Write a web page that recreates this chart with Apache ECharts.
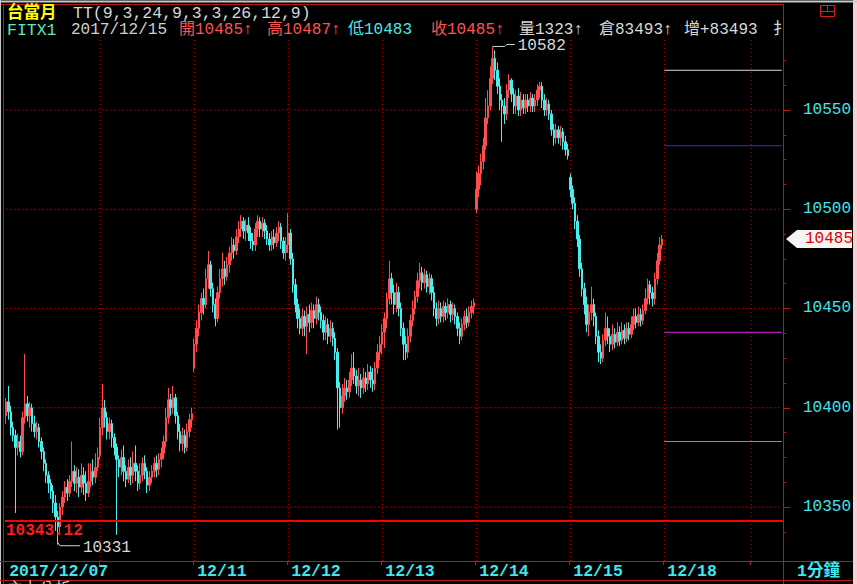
<!DOCTYPE html>
<html><head><meta charset="utf-8">
<script src="https://cdn.jsdelivr.net/npm/echarts@6/dist/echarts.min.js"></script>
<style>html,body{margin:0;padding:0;background:#000;}#c{width:857px;height:584px;}</style>
</head><body><div id="c"></div>
<script>
// ---- data ----
const dayLabels = ['2017/12/07','12/08','12/11','12/12','12/13','12/14','12/15','12/18'];
// [open, close, low, high]
const d1207 = [
[10396,10403,10392,10405],[10403,10398,10394,10411],[10398,10390,10386,10401],[10390,10386,10383,10393],
[10386,10380,10347,10389],[10380,10383,10376,10387],[10383,10378,10375,10386],[10378,10395,10376,10398],
[10395,10402,10392,10427],[10402,10396,10393,10406],[10396,10400,10390,10403],[10400,10392,10388,10402],
[10392,10388,10385,10396],[10388,10390,10384,10393],[10390,10383,10380,10392],[10383,10378,10374,10385],
[10378,10372,10368,10380],[10372,10366,10362,10374],[10366,10362,10357,10368],[10362,10358,10354,10364],
[10358,10352,10347,10361],[10352,10345,10338,10356],[10345,10340,10331,10348],[10340,10350,10336,10352],
[10350,10355,10346,10358],[10355,10360,10352,10363],[10360,10357,10353,10364],[10357,10363,10355,10366],
[10363,10368,10360,10383],[10368,10362,10358,10371],[10362,10365,10357,10370],[10365,10360,10355,10369],
[10360,10366,10357,10372],[10366,10362,10356,10370],[10362,10357,10353,10368],[10357,10363,10355,10372],
[10363,10368,10360,10372],[10368,10365,10361,10374],[10365,10370,10362,10377],[10370,10375,10368,10380]];
const d1208 = [
[10376,10390,10374,10395],[10390,10400,10386,10412],[10400,10395,10390,10404],[10395,10388,10384,10398],
[10388,10392,10384,10395],[10392,10385,10380,10394],[10385,10380,10376,10387],[10380,10374,10336,10382],
[10374,10370,10365,10376],[10370,10375,10366,10379],[10375,10368,10363,10381],[10368,10364,10360,10371],
[10364,10370,10362,10374],[10370,10366,10361,10375],[10366,10372,10362,10378],[10372,10368,10363,10381],
[10368,10362,10358,10371],[10362,10366,10359,10372],[10366,10372,10363,10375],[10372,10368,10364,10376],
[10368,10361,10357,10370],[10361,10365,10358,10368],[10365,10368,10362,10371],[10368,10372,10365,10375],
[10372,10369,10365,10376],[10369,10374,10366,10377],[10374,10377,10370,10380],[10377,10383,10374,10386],
[10383,10395,10380,10400],[10395,10404,10392,10410],[10404,10400,10396,10407],[10400,10405,10397,10411],
[10405,10396,10392,10407],[10396,10388,10384,10398],[10388,10382,10378,10392],[10382,10386,10378,10390],
[10386,10380,10377,10389],[10380,10388,10378,10392],[10388,10394,10385,10397],[10394,10397,10390,10400]];
const d1211 = [
[10420,10432,10418,10435],[10432,10440,10428,10444],[10440,10448,10436,10452],[10448,10455,10444,10458],
[10455,10452,10447,10460],[10452,10465,10450,10470],[10465,10472,10460,10479],[10472,10460,10456,10474],
[10460,10452,10448,10463],[10452,10445,10441,10455],[10445,10458,10443,10461],[10458,10465,10455,10470],
[10465,10470,10461,10478],[10470,10466,10462,10474],[10466,10472,10464,10476],[10472,10478,10468,10481],
[10478,10482,10474,10486],[10482,10479,10475,10485],[10479,10486,10477,10490],[10486,10490,10483,10494],
[10490,10494,10486,10497],[10494,10489,10485,10496],[10489,10492,10484,10495],[10492,10488,10484,10496],
[10488,10484,10480,10491],[10484,10482,10479,10488],[10482,10490,10479,10493],[10490,10494,10486,10497],
[10494,10490,10486,10496],[10490,10493,10486,10496],[10493,10489,10485,10495],[10489,10485,10482,10492],
[10485,10482,10479,10488],[10482,10486,10479,10489],[10486,10483,10480,10490],[10483,10488,10481,10491],
[10488,10491,10484,10494],[10491,10484,10480,10493],[10484,10478,10475,10486],[10478,10482,10474,10486]];
const d1212 = [
[10482,10488,10478,10498],[10488,10475,10472,10490],[10475,10462,10458,10478],[10462,10452,10448,10465],
[10452,10445,10440,10455],[10445,10440,10437,10450],[10440,10446,10436,10450],[10446,10441,10436,10449],
[10441,10447,10427,10451],[10447,10443,10438,10452],[10443,10449,10440,10453],[10449,10445,10440,10452],
[10445,10452,10442,10456],[10452,10448,10444,10455],[10448,10444,10440,10451],[10444,10438,10434,10447],
[10438,10442,10434,10446],[10442,10436,10432,10445],[10436,10440,10433,10444],[10440,10435,10431,10443],
[10435,10428,10424,10438],[10428,10410,10389,10430],[10410,10400,10390,10413],[10400,10406,10397,10412],
[10406,10410,10403,10415],[10410,10408,10404,10414],[10408,10414,10405,10418],[10414,10420,10411,10427],
[10420,10416,10412,10428],[10416,10411,10407,10419],[10411,10414,10406,10420],[10414,10410,10405,10417],
[10410,10415,10407,10420],[10415,10412,10408,10418],[10412,10418,10409,10422],[10418,10414,10410,10421],
[10414,10412,10408,10420],[10412,10420,10409,10423],[10420,10428,10417,10432],[10428,10432,10424,10436]];
const d1213 = [
[10432,10438,10427,10442],[10438,10445,10430,10448],[10445,10455,10440,10458],[10455,10465,10452,10474],
[10465,10458,10452,10468],[10458,10452,10447,10462],[10452,10458,10448,10463],[10458,10450,10446,10461],
[10450,10440,10436,10453],[10440,10432,10424,10443],[10432,10428,10424,10436],[10428,10436,10425,10440],
[10436,10444,10433,10447],[10444,10450,10441,10454],[10450,10456,10447,10459],[10456,10464,10453,10468],
[10464,10468,10460,10473],[10468,10463,10459,10471],[10463,10467,10460,10470],[10467,10461,10458,10469],
[10461,10465,10457,10468],[10465,10458,10454,10467],[10458,10450,10446,10461],[10450,10445,10441,10453],
[10445,10450,10442,10454],[10450,10446,10443,10453],[10446,10451,10443,10454],[10451,10448,10444,10453],
[10448,10452,10445,10455],[10452,10447,10443,10454],[10447,10450,10444,10453],[10450,10446,10442,10452],
[10446,10440,10436,10448],[10440,10436,10432,10443],[10436,10442,10434,10445],[10442,10446,10439,10449],
[10446,10443,10440,10450],[10443,10448,10441,10451],[10448,10451,10445,10454],[10451,10453,10447,10455]];
const d1214 = [
[10500,10510,10498,10519],[10510,10518,10506,10522],[10518,10524,10512,10528],[10524,10532,10520,10536],
[10532,10546,10530,10556],[10546,10552,10543,10560],[10552,10566,10550,10572],[10566,10576,10563,10582],
[10576,10570,10565,10580],[10570,10562,10558,10574],[10562,10555,10550,10566],[10555,10552,10534,10558],
[10552,10548,10543,10556],[10548,10560,10545,10563],[10560,10565,10556,10568],[10565,10558,10554,10566],
[10558,10552,10548,10561],[10552,10557,10548,10560],[10557,10550,10547,10561],[10550,10555,10547,10559],
[10555,10551,10548,10558],[10551,10555,10548,10558],[10555,10552,10549,10558],[10552,10556,10549,10559],
[10556,10552,10549,10558],[10552,10555,10549,10558],[10555,10560,10552,10563],[10560,10562,10556,10564],
[10562,10555,10551,10564],[10555,10550,10547,10558],[10550,10553,10547,10556],[10553,10548,10545,10555],
[10548,10540,10537,10550],[10540,10536,10532,10543],[10536,10540,10533,10543],[10540,10536,10533,10542],
[10536,10539,10532,10542],[10539,10534,10530,10541],[10534,10530,10527,10537],[10530,10527,10525,10533]];
const d1215 = [
[10516,10510,10506,10518],[10510,10503,10500,10512],[10503,10494,10490,10506],[10494,10485,10481,10497],
[10485,10470,10466,10487],[10470,10460,10456,10473],[10460,10452,10447,10463],[10452,10442,10438,10456],
[10442,10448,10436,10452],[10448,10452,10444,10461],[10452,10446,10441,10455],[10446,10436,10432,10448],
[10436,10428,10423,10439],[10428,10425,10422,10432],[10425,10434,10423,10437],[10434,10440,10431,10448],
[10440,10436,10432,10446],[10436,10432,10428,10440],[10432,10437,10429,10442],[10437,10433,10430,10440],
[10433,10438,10431,10443],[10438,10434,10431,10441],[10434,10439,10432,10443],[10439,10435,10432,10442],
[10435,10440,10433,10443],[10440,10437,10434,10443],[10437,10442,10435,10446],[10442,10446,10439,10450],
[10446,10443,10440,10450],[10443,10447,10441,10451],[10447,10444,10441,10450],[10444,10449,10442,10452],
[10449,10455,10447,10460],[10455,10462,10452,10465],[10462,10458,10452,10464],[10458,10455,10451,10461],
[10455,10465,10452,10468],[10465,10474,10462,10478],[10474,10482,10472,10486],[10482,10485,10480,10487]];
const yTickValues = [10350,10400,10450,10500,10550];
const ttLevels = [10570,10532,10438,10383];
const ttColors = ['#d8d8d8','#2a2aff','#e020e0','#a8a000'];
const refLevel = 10343.12;
const lastPrice = 10485;

// ---- build ----
const FONT = "'Liberation Mono','Noto Sans CJK TC',monospace";
const days = [d1207,d1208,d1211,d1212,d1213,d1214,d1215];
const perDay = d1207.length;
const candles = [].concat(...days);
const totalSlots = 331;
const lastDayStart = perDay * days.length;
const cats = [];
for (let i = 0; i < totalSlots; i++) cats.push((dayLabels[Math.floor(i / perDay)] || '--') + '#' + (i % perDay));
const boundaries = [];
for (let i = perDay; i <= lastDayStart; i += perDay) boundaries.push(i);
boundaries.push(317);
const isLabel = i => i % perDay === 0 && i !== perDay && i <= lastDayStart;
const yMin = 10322.8, yMax = 10585.26;
const minorTicks = [];
for (let v = 10337.5; v < yMax; v += 12.5) if (v % 50 !== 0) minorTicks.push(v);
const GRID = '#d00000';

const mlData = [{yAxis: refLevel, lineStyle: {color: '#ff0000', type: 'solid', width: 2},
  label: {show: true, position: 'insideStartBottom', formatter: String(refLevel), color: '#ff1a1a',
    fontFamily: FONT, fontSize: 16, fontWeight: 'bold', distance: [1, 2]}}];

const ttSeries = ttLevels.map((v, k) => ({
  type: 'line', data: [[lastDayStart, v], [totalSlots - 1, v]], symbol: 'none', silent: true,
  lineStyle: {color: ttColors[k], width: 1}, itemStyle: {color: ttColors[k]}, z: 3
}));
// dotted grid drawn as series on the chart's own axes
const gridSeries = [];
boundaries.forEach(b => gridSeries.push({type: 'line', data: [[b, yMin], [b, yMax]], symbol: 'none', silent: true,
  lineStyle: {color: GRID, width: 1, type: [1, 3]}, z: 3}));
yTickValues.forEach(v => gridSeries.push({type: 'line', data: [[0, v], [totalSlots - 1, v]], symbol: 'none', silent: true,
  lineStyle: {color: GRID, width: 1, type: [1, 3]}, z: 3}));

const chart = echarts.init(document.getElementById('c'), null, {renderer: 'svg'});
const option = {
  backgroundColor: '#000',
  animation: false,
  grid: {left: 5, right: 74, top: 40, bottom: 23},
  xAxis: {
    type: 'category', data: cats, boundaryGap: true,
    axisLine: {show: false},
    axisTick: {show: false},
    axisLabel: {interval: (i) => isLabel(i), align: 'left', color: '#3ee8ee', fontFamily: FONT,
      fontSize: 16.5, fontWeight: 'bold', margin: 2, padding: [0, 0, 0, 3],
      formatter: (v) => String(v).split('#')[0]},
    splitLine: {show: false}
  },
  yAxis: [{
    type: 'value', position: 'right', min: yMin, max: yMax,
    axisLine: {show: false},
    axisTick: {show: true, customValues: yTickValues, length: 7, lineStyle: {color: '#c01818'}},
    axisLabel: {customValues: yTickValues, margin: 20, color: '#3ee6ee', fontFamily: FONT, fontSize: 16,
      formatter: (v) => String(Math.round(v))},
    splitLine: {show: false}
  }, {
    type: 'value', position: 'right', min: yMin, max: yMax,
    axisLine: {show: false},
    axisTick: {show: true, customValues: minorTicks, length: 3, lineStyle: {color: '#c01818'}},
    axisLabel: {show: false},
    splitLine: {show: false}
  }],
  series: gridSeries.concat([{
    type: 'candlestick', data: candles, barWidth: 2, yAxisIndex: 0, z: 4,
    itemStyle: {color: '#ff4d4d', color0: '#48eeee', borderColor: '#ff4d4d', borderColor0: '#48eeee', borderWidth: 1},
    markLine: {silent: true, symbol: 'none', animation: false, data: mlData}
  }]).concat(ttSeries)
};
chart.setOption(option);

// annotations through the chart's own scales
const px = (i, v) => chart.convertToPixel({gridIndex: 0}, [i, v]);
let hiI = 0, loI = 0;
candles.forEach((c, i) => { if (c[3] > candles[hiI][3]) hiI = i; if (c[2] < candles[loI][2]) loI = i; });
const hp = px(hiI, candles[hiI][3]);
const lp = px(loI, candles[loI][2]);
const pp = px(0, lastPrice);
const frame = '#b81818';
const txt = (t, x, y, fill, extra) => Object.assign({type: 'text', silent: true, z: 100,
  style: Object.assign({text: t, x: x, y: y, fill: fill, font: '16px ' + FONT, verticalAlign: 'middle', align: 'left'}, extra || {})});
const ln = (x1, y1, x2, y2, stroke, w) => ({type: 'line', silent: true, z: 90,
  shape: {x1: x1, y1: y1, x2: x2, y2: y2}, style: {stroke: stroke, lineWidth: w || 1}});
const g = [];
boundaries.forEach(b => {
  const x = Math.round(px(b, yMin)[0]) - 0.5;
  g.push(ln(x, 561, x, 565, frame));
});
g.push(
  {type: 'rect', silent: true, z: 90, shape: {x: 853, y: 0, width: 4, height: 584}, style: {fill: '#f0d4d4'}},
  ln(0, 1.5, 857, 1.5, '#c8c8c8', 2),
  ln(0, 4.5, 783, 4.5, frame),
  ln(0.5, 0, 0.5, 584, '#c8c8c8'),
  ln(3.5, 4, 3.5, 584, frame),
  ln(783.5, 4, 783.5, 584, frame),
  ln(0, 561.5, 853, 561.5, frame),
  ln(0, 580.5, 853, 580.5, frame),
  {type: 'rect', silent: true, z: 95, shape: {x: 820.5, y: 5.5, width: 14, height: 11}, style: {fill: 'none', stroke: '#d02020'}},
  ln(820.5, 11.5, 834.5, 11.5, '#d02020'),
  ln(827.5, 5.5, 827.5, 11.5, '#d02020'),
  txt('台當月', 7, 13, '#ffff00', {font: 'bold 16.5px ' + FONT}),
  txt('TT(9,3,24,9,3,3,26,12,9)', 73, 13, '#d8d8d8', {font: '16.5px ' + FONT}),
  txt('FITX1', 7, 30, '#5ee8b8', {font: '16.5px ' + FONT}),
  txt('2017/12/15', 71, 30, '#d0d0d0'),
  txt('開10485↑', 179, 30, '#ff5252'),
  txt('高10487↑', 267, 30, '#ff5252'),
  txt('低10483', 348, 30, '#4fe6e6'),
  txt('收10485↑', 431, 30, '#ff5252'),
  txt('量1323↑', 519, 30, '#d8d8d8'),
  txt('倉83493↑', 599, 30, '#d8d8d8'),
  txt('增+83493', 684, 30, '#d8d8d8'),
  txt('扌', 773, 30, '#d8d8d8'),
  txt('1分鐘', 797, 571, '#3ee8ee', {font: 'bold 16.5px ' + FONT}),
  txt('主力分析', 7, 590, '#d0d0d0'),
  {type: 'polyline', silent: true, z: 95, shape: {points: [[hp[0], hp[1]], [hp[0] + 12, hp[1]], [hp[0] + 14, hp[1] - 2], [hp[0] + 22, hp[1] - 2]]}, style: {stroke: '#d0d0d0', fill: 'none'}},
  txt(String(candles[hiI][3]), hp[0] + 25, hp[1], '#d8d8d8'),
  {type: 'polyline', silent: true, z: 95, shape: {points: [[lp[0], lp[1] - 2], [lp[0] + 2, lp[1] + 1], [lp[0] + 22, lp[1] + 1]]}, style: {stroke: '#d0d0d0', fill: 'none'}},
  txt(String(candles[loI][2]), lp[0] + 25, lp[1] + 3, '#d8d8d8'),
  {type: 'polygon', silent: true, z: 95, shape: {points: [[786, pp[1]], [797, pp[1] - 9], [852, pp[1] - 9], [852, pp[1] + 9], [797, pp[1] + 9]]}, style: {fill: '#f4f4f4'}},
  txt(String(lastPrice), 805, pp[1], '#e00000')
);
chart.setOption({graphic: g});
</script></body></html>
